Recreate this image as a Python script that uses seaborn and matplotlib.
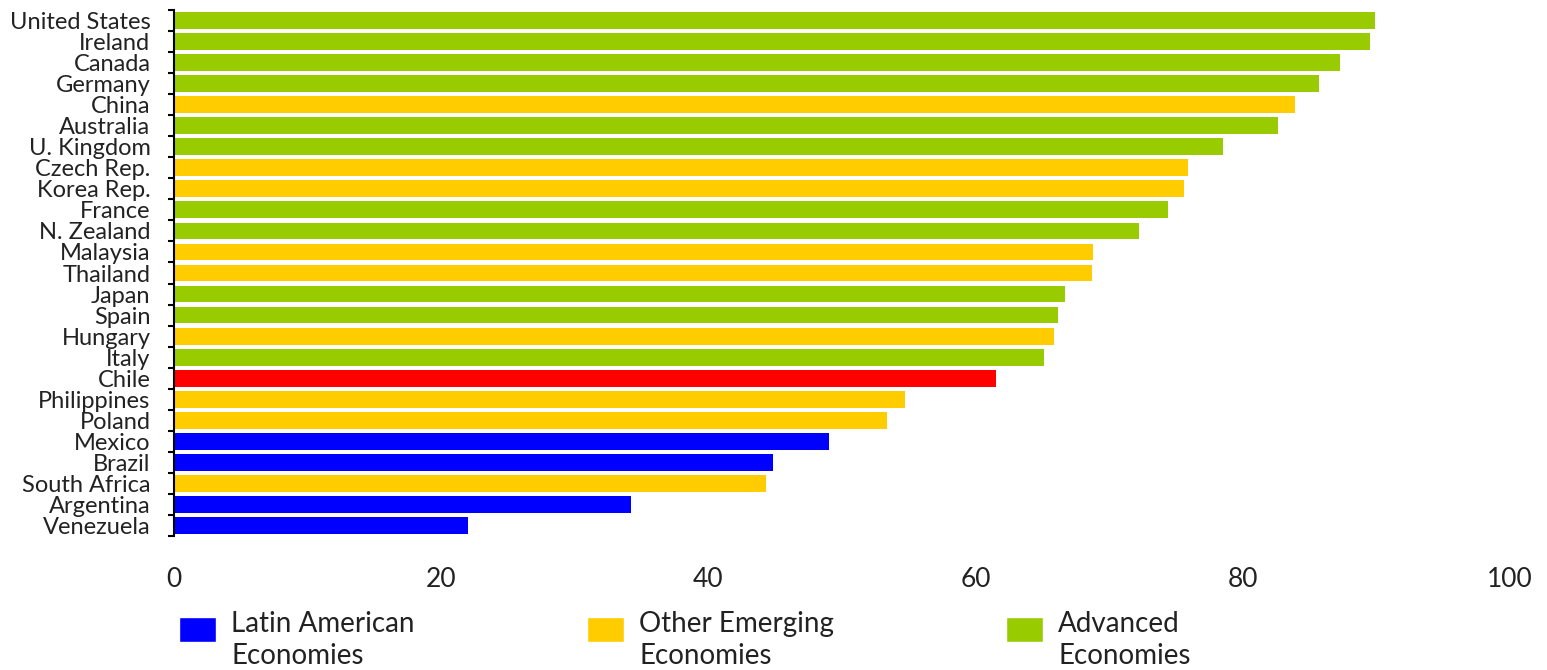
import numpy as np
import pandas as pd
import matplotlib
matplotlib.use("Agg")
import matplotlib.pyplot as plt
from matplotlib.patches import Patch, Rectangle
from matplotlib.legend_handler import HandlerPatch
import seaborn as sns

# data
countries = ["United States", "Ireland", "Canada", "Germany", "China", "Australia",
             "U. Kingdom", "Czech Rep.", "Korea Rep.", "France", "N. Zealand",
             "Malaysia", "Thailand", "Japan", "Spain", "Hungary", "Italy", "Chile",
             "Philippines", "Poland", "Mexico", "Brazil", "South Africa",
             "Argentina", "Venezuela"]
values = [89.9, 89.5, 87.3, 85.7, 83.9, 82.6, 78.5, 75.9, 75.6, 74.4, 72.2,
          68.8, 68.7, 66.7, 66.2, 65.9, 65.1, 61.5, 54.7, 53.4, 49.0, 44.8,
          44.3, 34.2, 22.0]
groups = ["Advanced", "Advanced", "Advanced", "Advanced", "Emerging", "Advanced",
          "Advanced", "Emerging", "Emerging", "Advanced", "Advanced",
          "Emerging", "Emerging", "Advanced", "Advanced", "Emerging", "Advanced",
          "Chile", "Emerging", "Emerging", "Latin", "Latin", "Emerging",
          "Latin", "Latin"]

palette = {"Latin": "#0000FF", "Emerging": "#FFCC00", "Advanced": "#99CC00", "Chile": "#FF0000"}
legend_labels = {"Latin": "Latin American\nEconomies",
                 "Emerging": "Other Emerging\nEconomies",
                 "Advanced": "Advanced\nEconomies"}

df = pd.DataFrame({"country": countries, "value": values, "group": groups})

sns.set_style("white")
plt.rcParams["font.family"] = ["Lato", "DejaVu Sans"]

fig = plt.figure(figsize=(15.47, 6.70), dpi=100)
ax = fig.add_axes([174 / 1547, 1 - 536 / 670, (1510 - 174) / 1547, (536 - 10) / 670])

sns.barplot(data=df, x="value", y="country", hue="group", palette=palette,
            saturation=1, dodge=False, width=0.8, legend=False,
            edgecolor="none", ax=ax)

ax.set_xlim(0, 100)
ax.set_ylim(len(countries) - 0.5, -0.5)
ax.set_xticks(np.arange(0, 101, 20))
ax.set_xlabel("")
ax.set_ylabel("")

for s in ["top", "right", "bottom"]:
    ax.spines[s].set_visible(False)
ax.spines["left"].set_linewidth(1.5)
ax.spines["left"].set_color("black")

ax.set_yticks(np.arange(-0.5, len(countries), 1), minor=True)
ax.tick_params(axis="y", which="major", length=0, pad=17, labelsize=17, labelcolor="#222222")
ax.tick_params(axis="y", which="minor", length=4.5, width=1.5, color="black", left=True)
ax.tick_params(axis="x", which="major", length=0, pad=22, labelsize=19, labelcolor="#222222")


# legend patch sits level with the first line of the two-line label
def raised_patch(legend, orig_handle, xdescent, ydescent, width, height, fontsize):
    return Rectangle((-xdescent, -ydescent + 8.5), width, height)


handles = [Patch(facecolor=palette[k], label=legend_labels[k]) for k in ["Latin", "Emerging", "Advanced"]]
leg = fig.legend(handles=handles, loc="upper left", bbox_to_anchor=(165 / 1547, 1 - 597 / 670),
                 ncol=3, frameon=False, fontsize=20, handlelength=1.33, handleheight=1.0,
                 handletextpad=0.55, columnspacing=6.2, borderpad=0, labelspacing=0,
                 handler_map={Patch: HandlerPatch(patch_func=raised_patch)})
for t in leg.get_texts():
    t.set_linespacing(1.3)
    t.set_color("#222222")

fig.savefig("out.png", dpi=100)
